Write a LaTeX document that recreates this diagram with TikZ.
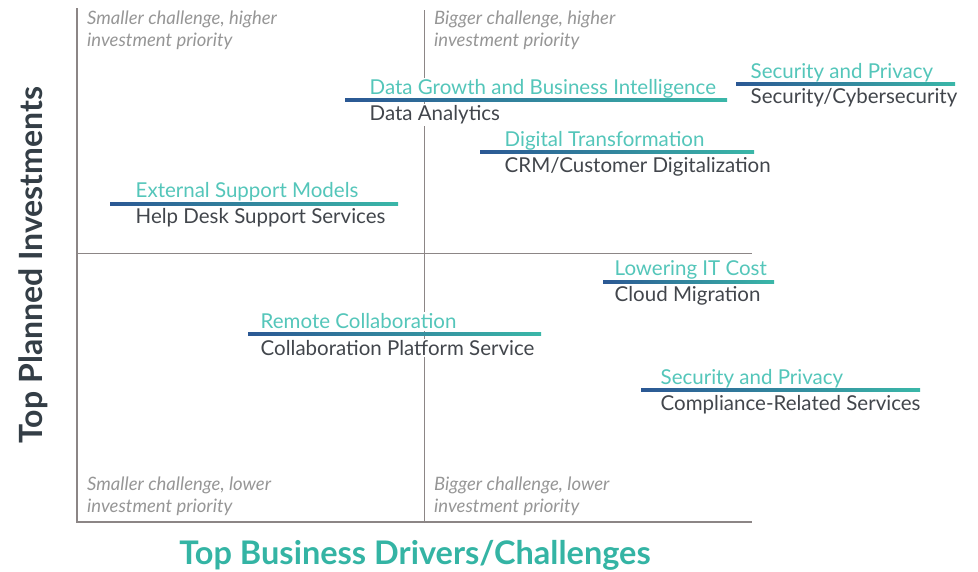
\documentclass[tikz,border=0pt]{standalone}
\usepackage{fontspec}
\setmainfont{Lato}
\usepackage{xcolor}
\usetikzlibrary{positioning}
\definecolor{myteal}{RGB}{84,198,186}
\definecolor{titleteal}{RGB}{52,180,164}
\definecolor{mydark}{RGB}{66,70,76}
\definecolor{titledark}{RGB}{52,62,70}
\definecolor{mygray}{RGB}{150,150,150}
\definecolor{axisgray}{RGB}{140,134,134}
\definecolor{barblue}{RGB}{43,88,148}
\definecolor{barteal}{RGB}{58,183,168}

\begin{document}
\begin{tikzpicture}[x=1pt,y=-1pt,
    drv/.style={anchor=west,text=myteal,fill=white,inner sep=1.5pt,font=\fontsize{20.5}{20.5}\selectfont},
    svc/.style={anchor=west,text=mydark,fill=white,inner sep=1.5pt,font=\fontsize{20.5}{20.5}\selectfont},
    quad/.style={anchor=west,align=left,text=mygray,inner sep=0pt,font=\fontsize{18.5}{22}\selectfont\itshape},
    bar/.style={left color=barblue,right color=barteal}]
  \useasboundingbox (0,0) rectangle (978,571);
  % quadrant frame
  \coordinate (top) at (77,8);
  \coordinate (corner) at (77,522);
  \coordinate (end) at (752,522);
  \coordinate (midtop) at (424,10);
  \coordinate (midbot) at (424,522);
  \coordinate (midleft) at (77,253);
  \coordinate (midright) at (752,253);
  \draw[axisgray,line width=0.8pt](midtop)--(midbot);
  \draw[axisgray,line width=0.8pt](midleft)--(midright);
  \draw[axisgray,line width=2.4pt](top)--(corner)--(end);
  % quadrant captions
  \node[quad] (q1) at (87,30) {Smaller challenge, higher\\investment priority};
  \node[quad] (q2) at (434,30) {Bigger challenge, higher\\investment priority};
  \node[quad] (q3) at (87,496) {Smaller challenge, lower\\investment priority};
  \node[quad] (q4) at (434,496) {Bigger challenge, lower\\investment priority};
  % drivers and the services planned for them
  \node[drv] (dgbi) at (368,88.5) {Data Growth and Business Intelligence};
  \node[svc] (dana) at (368,115) {Data Analytics};
  \shade[bar] (345,98.5) rectangle (727,101.5);
  \node[drv] (sp1) at (749,72.5) {Security and Privacy};
  \node[svc] (cyber) at (749,98) {Security/Cybersecurity};
  \shade[bar] (736,82.5) rectangle (955,85.5);
  \node[drv] (dtra) at (503,140.5) {Digital Transformation};
  \node[svc] (crm) at (503,167) {CRM/Customer Digitalization};
  \shade[bar] (480,150.5) rectangle (754,153.5);
  \node[drv] (esm) at (134,191.5) {External Support Models};
  \node[svc] (help) at (134,218) {Help Desk Support Services};
  \shade[bar] (110,202.5) rectangle (398,205.5);
  \node[drv] (lit) at (613,269.5) {Lowering IT Cost};
  \node[svc] (cloud) at (613,296) {Cloud Migration};
  \shade[bar] (603,280.5) rectangle (774,283.5);
  \node[drv] (rcol) at (259,321.5) {Remote Collaboration};
  \node[svc] (cps) at (259,348) {Collaboration Platform Service};
  \shade[bar] (248,332.5) rectangle (541,335.5);
  \node[drv] (sp2) at (659,378.5) {Security and Privacy};
  \node[svc] (comp) at (659,405) {Compliance-Related Services};
  \shade[bar] (641,388.5) rectangle (920,391.5);
  % axis titles
  \node[rotate=90,text=titledark,font=\fontsize{32}{32}\selectfont\bfseries] (ytitle) at (33,265) {Top Planned Investments};
  \node[text=titleteal,font=\fontsize{32.5}{32.5}\selectfont\bfseries] (xtitle) at (415,555) {Top Business Drivers/Challenges};
\end{tikzpicture}
\end{document}
